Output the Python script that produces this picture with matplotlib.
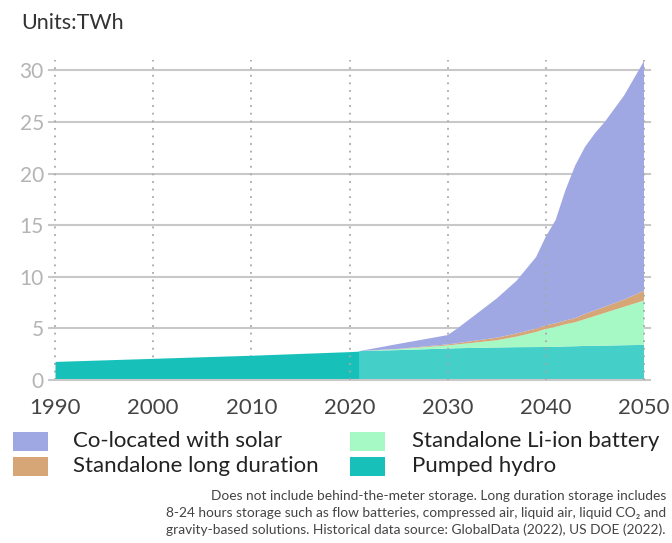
import matplotlib
matplotlib.use("Agg")
import matplotlib.pyplot as plt
from matplotlib.patches import Rectangle

plt.rcParams['font.family'] = ['Lato', 'DejaVu Sans']

# --- Data (TWh) ---
hist_years = [1990, 2000, 2010, 2020, 2021]
hist_pumped = [1.8, 2.1, 2.4, 2.75, 2.8]

proj_years = [2021, 2025, 2030, 2031, 2035, 2037, 2039, 2040, 2041, 2042,
              2043, 2044, 2045, 2046, 2048, 2050]
pumped = [2.8, 2.9, 3.05, 3.08, 3.15, 3.18, 3.19, 3.2, 3.22, 3.25,
          3.27, 3.3, 3.31, 3.33, 3.37, 3.4]
li_ion = [0.0, 0.1, 0.3, 0.37, 0.7, 1.02, 1.46, 1.75, 1.93, 2.15,
          2.33, 2.6, 2.89, 3.17, 3.73, 4.3]
long_dur = [0.0, 0.02, 0.1, 0.12, 0.25, 0.3, 0.32, 0.35, 0.35, 0.37,
            0.4, 0.5, 0.55, 0.6, 0.7, 0.95]
solar = [0.0, 0.48, 0.9, 1.43, 3.8, 5.1, 6.93, 8.6, 10.0, 12.63,
         14.8, 16.2, 17.15, 17.9, 19.8, 22.25]

labels = ['Co-located with solar', 'Standalone long duration',
          'Standalone Li-ion battery', 'Pumped hydro']
c_solar = '#a0a8e4'
c_long = '#d6a677'
c_li = '#a6f8c4'
c_pump = '#17c1b9'
c_pump_proj = '#45cfc9'

fig = plt.figure(figsize=(6.72, 5.43), dpi=100)
ax = fig.add_axes([55 / 672, 1 - 380 / 543, 589 / 672, 320 / 543])

ax.fill_between(hist_years, 0, hist_pumped, color=c_pump, lw=0, zorder=3)
ax.stackplot(proj_years, pumped, li_ion, long_dur, solar,
             colors=[c_pump_proj, c_li, c_long, c_solar], lw=0, zorder=3)

ax.set_xlim(1990, 2050)
ax.set_ylim(0, 31)

# grid lines
for y in range(0, 31, 5):
    ax.axhline(y, xmin=-0.01, xmax=1.01, color='#c8c8c8', lw=1.5,
               clip_on=False, zorder=2 if y else 4)
for x in range(1990, 2051, 10):
    ax.plot([x, x], [0, 31], color='#a8a8a8', lw=1.3,
            ls=(0, (1, 3.2)), zorder=2 if x < 2020 else 4, clip_on=False)

for s in ax.spines.values():
    s.set_visible(False)
ax.set_xticks(range(1990, 2051, 10))
ax.set_yticks(range(0, 31, 5))
ax.tick_params(axis='both', length=0)
ax.tick_params(axis='y', labelsize=15, labelcolor='#b4b4b4', pad=8)
ax.tick_params(axis='x', labelsize=16, labelcolor='#444444', pad=13)

fig.text(21 / 672, 1 - 23 / 543, 'Units:TWh', fontsize=15.5, color='#333333',
         ha='left', va='center')

# legend
items = [(labels[0], c_solar, 13, 73, 441), (labels[1], c_long, 13, 73, 466),
         (labels[2], c_li, 350, 412, 441), (labels[3], c_pump, 350, 412, 466)]
for text, col, px, tx, yc in items:
    fig.patches.append(Rectangle((px / 672, 1 - (yc + 9.5) / 543), 35 / 672, 19 / 543,
                                 transform=fig.transFigure, color=col, lw=0))
    fig.text(tx / 672, 1 - yc / 543, text, fontsize=16, color='#222222',
             ha='left', va='center')

note = ('Does not include behind-the-meter storage. Long duration storage includes\n'
        '8-24 hours storage such as flow batteries, compressed air, liquid air, liquid CO\u2082 and\n'
        'gravity-based solutions. Historical data source: GlobalData (2022), US DOE (2022).')
fig.text(666 / 672, 1 - 513 / 543, note, fontsize=9.9, color='#444444',
         ha='right', va='center', linespacing=1.5)

fig.savefig('out.png', dpi=100)
